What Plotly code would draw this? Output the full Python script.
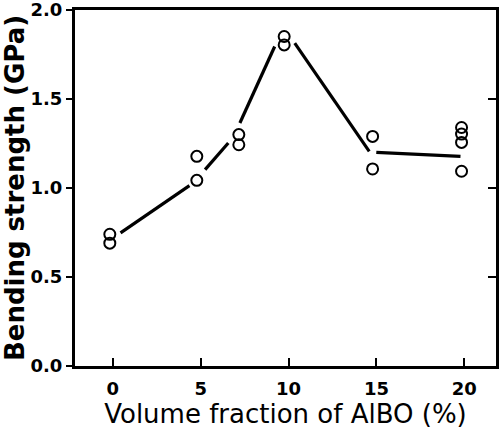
import plotly.graph_objects as go

# Measured points (bending strength, GPa) by volume fraction of AlBO (%)
pt_x = [-0.17, -0.17, 4.78, 4.78, 7.17, 7.17, 9.75, 9.75, 14.78, 14.78,
        19.84, 19.84, 19.84, 19.84]
pt_y = [0.74, 0.69, 1.178, 1.043, 1.30, 1.243, 1.851, 1.804, 1.29, 1.107,
        1.34, 1.303, 1.256, 1.094]

# Guide-line segments (start/end points)
seg_x0 = [0.44, 5.25, 7.23, 10.35, 14.99]
seg_y0 = [0.748, 1.103, 1.365, 1.814, 1.200]
seg_x1 = [4.36, 6.57, 9.21, 14.59, 19.78]
seg_y1 = [1.013, 1.253, 1.795, 1.206, 1.178]

x_ticks = [0, 5, 10, 15, 20]
y_ticks = [0.0, 0.5, 1.0, 1.5, 2.0]

lx, ly = [], []
for a, b, c, d in zip(seg_x0, seg_y0, seg_x1, seg_y1):
    lx += [a, c, None]
    ly += [b, d, None]

FONT = "DejaVu Sans, sans-serif"

fig = go.Figure()
fig.add_trace(go.Scatter(x=lx, y=ly, mode="lines",
                         line=dict(color="black", width=3.2),
                         hoverinfo="skip", showlegend=False))
fig.add_trace(go.Scatter(x=pt_x, y=pt_y, mode="markers",
                         marker=dict(symbol="circle-open", size=11, color="black",
                                     line=dict(width=2, color="black")),
                         showlegend=False))
# invisible trace to activate right axis
fig.add_trace(go.Scatter(x=[0], y=[0], yaxis="y2", mode="markers",
                         marker=dict(opacity=0), hoverinfo="skip", showlegend=False))

fig.update_layout(
    width=500, height=429,
    margin=dict(l=75, r=4, t=10, b=63),
    paper_bgcolor="white", plot_bgcolor="white",
    xaxis=dict(range=[-2.15, 21.8], tickvals=x_ticks, ticks="inside", ticklen=8,
               tickwidth=2, tickcolor="black", showline=True, linewidth=3,
               linecolor="black", mirror=True, showgrid=False, zeroline=False,
               automargin=False, ticklabelstandoff=4,
               tickfont=dict(family=FONT, size=18, color="black", weight="bold"),
               title=dict(text="Volume fraction of AlBO (%)", standoff=2,
                          font=dict(family=FONT, size=26, color="black"))),
    yaxis=dict(range=[0, 2.0], tickvals=y_ticks, tickformat=".1f", ticks="outside",
               ticklen=6, tickwidth=2, tickcolor="black", showline=True, linewidth=3,
               linecolor="black", mirror=True, showgrid=False, zeroline=False,
               automargin=False, ticklabeloverflow="allow",
               tickfont=dict(family=FONT, size=18, color="black", weight="bold"),
               title=dict(text="Bending strength (GPa)", standoff=2,
                          font=dict(family=FONT, size=26, color="black", weight="bold"))),
    yaxis2=dict(range=[0, 2.0], overlaying="y", side="right", tickvals=[0.5, 1.0, 1.5],
                ticks="inside", ticklen=8, tickwidth=2, tickcolor="black",
                showticklabels=False, showline=True, linewidth=3, linecolor="black",
                showgrid=False, zeroline=False, automargin=False),
)

fig.write_html("out.html", config={"displayModeBar": False},
               post_script="document.body.style.margin='0';")
